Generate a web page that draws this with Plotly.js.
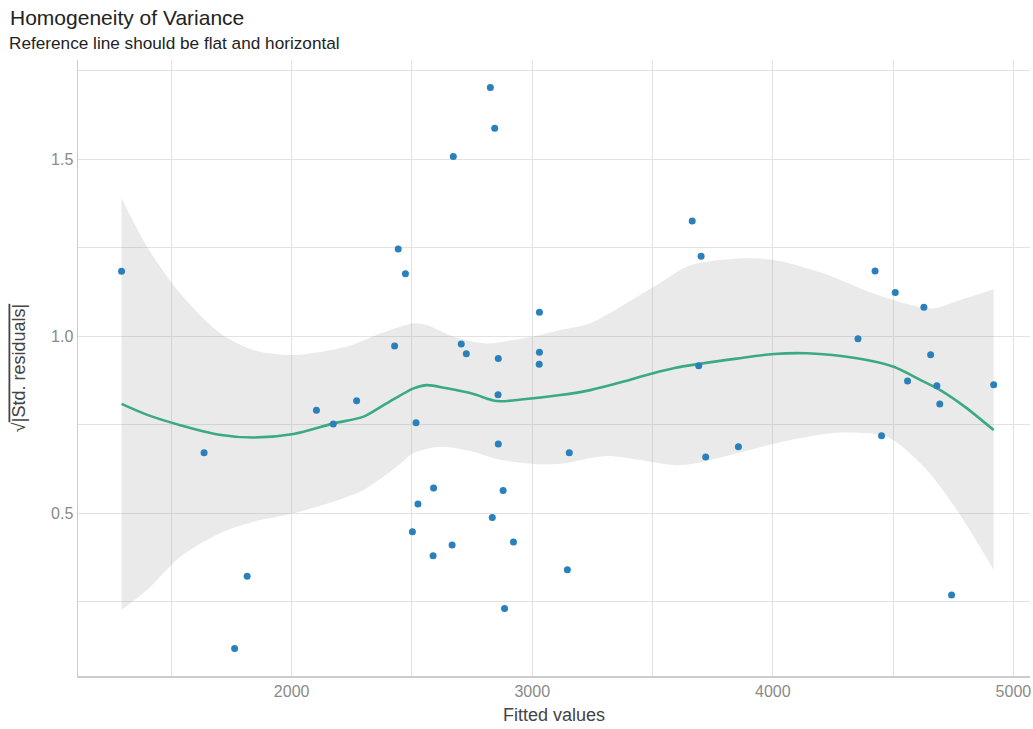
<!DOCTYPE html>
<html>
<head>
<meta charset="utf-8">
<script src="https://cdn.plot.ly/plotly-3.0.1.min.js"></script>
<style>
  html, body { margin: 0; padding: 0; background: #ffffff; }
  #chart { width: 1033px; height: 729px; }
</style>
</head>
<body>
<div id="chart"></div>
<script>
// Fitted values and sqrt(|standardized residuals|) for each observation
const fitted = [1293, 2443, 2473, 2672, 2826, 2844, 2428, 2705, 2726, 2859,
                3030, 3030, 3029, 1636, 2103, 2173, 2270, 2517, 2858, 2859,
                2590, 2525, 2879, 2834, 2502, 2667, 2588, 2922, 1815, 1763,
                2885, 3665, 3702, 4425, 4509, 4628, 4354, 4656, 3692, 4560,
                4682, 4694, 4918, 4452, 3154, 3721, 3857, 3146, 4743];
const sqrtResid = [1.184, 1.247, 1.177, 1.508, 1.703, 1.588, 0.973, 0.978, 0.951, 0.937,
                   1.068, 0.955, 0.921, 0.671, 0.791, 0.752, 0.818, 0.756, 0.835, 0.696,
                   0.571, 0.526, 0.564, 0.488, 0.448, 0.410, 0.380, 0.419, 0.322, 0.118,
                   0.231, 1.326, 1.226, 1.185, 1.124, 1.082, 0.993, 0.948, 0.917, 0.874,
                   0.860, 0.809, 0.863, 0.719, 0.671, 0.659, 0.688, 0.340, 0.269];

// Smoothed reference line
const smoothX = [1293, 1400, 1537, 1700, 1842, 2008, 2175, 2299, 2396, 2507,
                 2562, 2645, 2756, 2853, 2964, 3117, 3241, 3380, 3449, 3588,
                 3692, 3850, 4004, 4142, 4350, 4502, 4613, 4696, 4800, 4918];
const smoothY = [0.809, 0.778, 0.749, 0.722, 0.714, 0.724, 0.754, 0.773, 0.811, 0.853,
                 0.862, 0.853, 0.837, 0.817, 0.822, 0.834, 0.848, 0.872, 0.886, 0.910,
                 0.922, 0.937, 0.950, 0.952, 0.938, 0.914, 0.877, 0.848, 0.800, 0.735];

// Confidence band around the smooth
const bandUpperX = [1293, 1399, 1537, 1704, 1842, 2008, 2230, 2369, 2507, 2562,
                    2673, 2812, 2923, 3034, 3117, 3241, 3505, 3657, 3865, 4004,
                    4211, 4419, 4655, 4779, 4918];
const bandUpperY = [1.390, 1.253, 1.121, 1.008, 0.961, 0.947, 0.971, 1.008, 1.037, 1.032,
                    0.999, 0.980, 0.990, 1.004, 1.018, 1.037, 1.140, 1.201, 1.220, 1.216,
                    1.178, 1.121, 1.079, 1.103, 1.133];
const bandLowerX = [1293, 1399, 1537, 1704, 1842, 2008, 2175, 2299, 2438, 2507,
                    2618, 2756, 2853, 3006, 3117, 3311, 3616, 3796, 4073, 4281,
                    4475, 4627, 4765, 4918];
const bandLowerY = [0.227, 0.283, 0.377, 0.444, 0.476, 0.500, 0.533, 0.566, 0.632, 0.670,
                    0.688, 0.674, 0.653, 0.639, 0.640, 0.662, 0.636, 0.660, 0.707, 0.728,
                    0.716, 0.632, 0.509, 0.340];

// Axis ticks
const xTicks = [2000, 3000, 4000, 5000];
const xTickText = ['2000', '3000', '4000', '5000'];
const yTicks = [0.5, 1.0, 1.5];
const yTickText = ['0.5', '1.0', '1.5'];

const FONT = '"Liberation Sans", Arial, Helvetica, sans-serif';
const GRID = '#e2e2e2';

const traces = [
  {
    x: bandLowerX, y: bandLowerY, type: 'scatter', mode: 'lines',
    line: { width: 0, shape: 'spline', smoothing: 0.8 },
    hoverinfo: 'skip', showlegend: false
  },
  {
    x: bandUpperX, y: bandUpperY, type: 'scatter', mode: 'lines',
    line: { width: 0, shape: 'spline', smoothing: 0.8 },
    fill: 'tonexty', fillcolor: 'rgba(165,165,165,0.23)',
    hoverinfo: 'skip', showlegend: false
  },
  {
    x: smoothX, y: smoothY, type: 'scatter', mode: 'lines',
    line: { color: '#3aaa82', width: 2.6, shape: 'spline', smoothing: 0.8 },
    hoverinfo: 'skip', showlegend: false
  },
  {
    x: fitted, y: sqrtResid, type: 'scatter', mode: 'markers',
    marker: { color: '#2a80ba', size: 7 },
    showlegend: false
  }
];

const layout = {
  width: 1033, height: 729,
  paper_bgcolor: '#ffffff', plot_bgcolor: '#ffffff',
  font: { family: FONT, color: '#333333' },
  margin: { l: 78, r: 3, t: 60, b: 53 },
  title: {
    text: 'Homogeneity of Variance',
    font: { family: FONT, size: 21, color: '#222222' },
    x: 0.0097, xanchor: 'left', xref: 'container',
    y: 0.986, yanchor: 'top', yref: 'container'
  },
  annotations: [
    {
      text: 'Reference line should be flat and horizontal',
      font: { family: FONT, size: 17.2, color: '#222222' },
      xref: 'paper', yref: 'paper',
      x: -71 / 952, xanchor: 'left',
      y: 1 + 17 / 616, yanchor: 'middle',
      showarrow: false
    }
  ],
  xaxis: {
    range: [1112, 5069],
    tickvals: xTicks, ticktext: xTickText,
    showgrid: true, gridcolor: GRID, gridwidth: 1,
    minor: { dtick: 500, tick0: 0, showgrid: true, gridcolor: GRID, gridwidth: 1, ticks: '' },
    zeroline: false,
    showline: true, linecolor: '#cccccc', linewidth: 1.5,
    ticks: '', ticklen: 0,
    tickfont: { family: FONT, size: 16, color: '#8a8a8a' },
    title: { text: 'Fitted values', font: { family: FONT, size: 18, color: '#444444' }, standoff: 9 },
    fixedrange: true
  },
  yaxis: {
    range: [0.040, 1.781],
    tickvals: yTicks, ticktext: yTickText,
    showgrid: true, gridcolor: GRID, gridwidth: 1,
    minor: { dtick: 0.25, tick0: 0, showgrid: true, gridcolor: GRID, gridwidth: 1, ticks: '' },
    zeroline: false,
    showline: true, linecolor: '#cccccc', linewidth: 1.5,
    ticks: '', ticklen: 0,
    tickfont: { family: FONT, size: 16, color: '#8a8a8a' },
    title: {
      text: '√<span style="text-decoration:overline">|Std. residuals|</span>',
      font: { family: FONT, size: 18, color: '#444444' }, standoff: 20
    },
    fixedrange: true
  },
  hovermode: 'closest'
};

Plotly.newPlot('chart', traces, layout, { displayModeBar: false, staticPlot: true });
</script>
</body>
</html>
